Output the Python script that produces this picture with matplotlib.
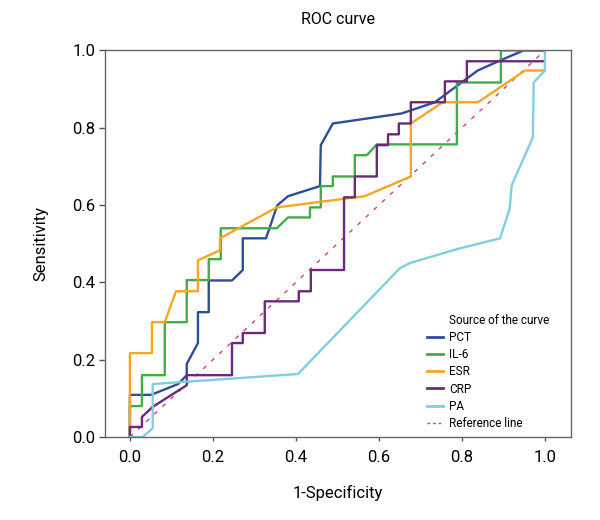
import matplotlib
matplotlib.use("Agg")
import matplotlib.pyplot as plt
from matplotlib.lines import Line2D

plt.rcParams["font.family"] = ["Roboto", "DejaVu Sans"]

# curvas ROC (1-especificidad, sensibilidad)
pct_x = [0, 0, 0.051, 0.116, 0.137, 0.137, 0.164, 0.164, 0.190, 0.190, 0.246, 0.272, 0.272,
         0.328, 0.355, 0.381, 0.458, 0.460, 0.489, 0.655, 0.735, 0.838, 0.892, 0.949, 1.0]
pct_y = [0, 0.109, 0.109, 0.137, 0.160, 0.189, 0.243, 0.323, 0.323, 0.405, 0.405, 0.432, 0.514,
         0.514, 0.599, 0.623, 0.649, 0.755, 0.811, 0.837, 0.866, 0.948, 0.974, 1.0, 1.0]

il6_x = [0, 0, 0.029, 0.029, 0.084, 0.084, 0.137, 0.137, 0.190, 0.190, 0.219, 0.219, 0.354,
         0.381, 0.434, 0.434, 0.460, 0.460, 0.489, 0.489, 0.542, 0.542, 0.571, 0.595, 0.788,
         0.788, 0.894, 0.894, 1.0]
il6_y = [0, 0.080, 0.080, 0.160, 0.160, 0.297, 0.297, 0.406, 0.406, 0.460, 0.460, 0.540, 0.540,
         0.568, 0.568, 0.594, 0.594, 0.649, 0.649, 0.674, 0.674, 0.729, 0.729, 0.757, 0.757,
         0.917, 0.917, 1.0, 1.0]

esr_x = [0, 0, 0.053, 0.053, 0.084, 0.111, 0.164, 0.164, 0.217, 0.217, 0.354, 0.566, 0.677,
         0.677, 0.754, 0.839, 0.952, 1.0]
esr_y = [0, 0.217, 0.217, 0.297, 0.297, 0.377, 0.377, 0.457, 0.483, 0.514, 0.594, 0.623, 0.674,
         0.811, 0.866, 0.866, 0.948, 0.948]

crp_x = [0, 0, 0.029, 0.029, 0.055, 0.137, 0.137, 0.246, 0.246, 0.272, 0.272, 0.325, 0.325,
         0.407, 0.407, 0.436, 0.436, 0.516, 0.516, 0.542, 0.542, 0.595, 0.595, 0.622, 0.622,
         0.648, 0.648, 0.677, 0.677, 0.759, 0.759, 0.812, 0.812, 1.0]
crp_y = [0, 0.026, 0.026, 0.052, 0.078, 0.134, 0.160, 0.160, 0.243, 0.243, 0.269, 0.269, 0.351,
         0.351, 0.377, 0.377, 0.432, 0.432, 0.620, 0.620, 0.674, 0.674, 0.755, 0.755, 0.783,
         0.783, 0.811, 0.811, 0.866, 0.866, 0.920, 0.920, 0.972, 0.972]

pa_x = [0, 0.031, 0.055, 0.055, 0.405, 0.651, 0.675, 0.788, 0.892, 0.915, 0.920, 0.971,
        0.973, 1.0, 1.0]
pa_y = [0, 0, 0.023, 0.137, 0.163, 0.437, 0.450, 0.486, 0.514, 0.590, 0.651, 0.775,
        0.917, 0.948, 1.0]

curvas = ["PCT", "IL-6", "ESR", "CRP", "PA"]
colores = ["#2f4b9b", "#3fae49", "#f6a623", "#6b2a78", "#7fcfe0"]
datos = [(pct_x, pct_y), (il6_x, il6_y), (esr_x, esr_y), (crp_x, crp_y), (pa_x, pa_y)]

fig = plt.figure(figsize=(6, 5.2), dpi=100)
ax = fig.add_axes([0.175, 0.1596, 0.7767, 0.7434])

# línea de referencia
ax.plot([0, 1], [0, 1], color="#c8457a", linewidth=1, linestyle=(0, (3, 5)), zorder=1)

for nombre, color, (xs, ys) in zip(curvas, colores, datos):
    ax.plot(xs, ys, color=color, linewidth=1.7, label=nombre, zorder=2)

ax.set_xlim(-0.06, 1.063)
ax.set_ylim(0, 1.0)
ax.set_xticks([0, 0.2, 0.4, 0.6, 0.8, 1.0])
ax.set_yticks([0, 0.2, 0.4, 0.6, 0.8, 1.0])
ax.xaxis.set_major_formatter(matplotlib.ticker.FormatStrFormatter("%.1f"))
ax.yaxis.set_major_formatter(matplotlib.ticker.FormatStrFormatter("%.1f"))
ax.tick_params(axis="y", length=4, width=1, color="#555555", labelsize=12, pad=3)
ax.tick_params(axis="x", length=3, width=1, color="#555555", labelsize=12, pad=6)
for lado in ax.spines.values():
    lado.set_color("#666666")
    lado.set_linewidth(1)

ax.set_title("ROC curve", fontsize=11.5, pad=19)
ax.set_xlabel("1-Specificity", fontsize=12)
ax.set_ylabel("Sensitivity", fontsize=12)
ax.xaxis.set_label_coords(0.5, -0.125)
ax.yaxis.set_label_coords(-0.122, 0.5)

# leyenda con el título alineado con los textos
manijas = [Line2D([], [], color="none")]
etiquetas = ["Source of the curve"]
for nombre, color in zip(curvas, colores):
    manijas.append(Line2D([], [], color=color, linewidth=2))
    etiquetas.append(nombre)
manijas.append(Line2D([], [], color="#c8457a", linewidth=1, linestyle=(0, (2, 2))))
etiquetas.append("Reference line")
ax.legend(manijas, etiquetas, loc="upper left", bbox_to_anchor=(427 / 600, 1 - 314 / 520),
          bbox_transform=fig.transFigure, frameon=False, fontsize=8.5, borderpad=0,
          handlelength=1.35, handletextpad=0.5, labelspacing=0.35, borderaxespad=0)

plt.savefig("out.png", dpi=100)
